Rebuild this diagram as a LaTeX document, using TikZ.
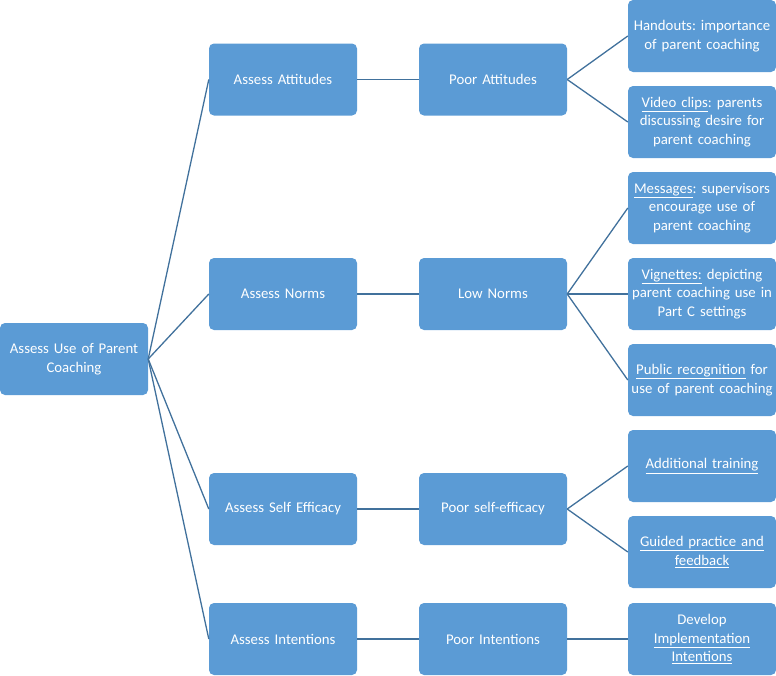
\documentclass[tikz,border=0pt]{standalone}
\usepackage{fontspec}
\setmainfont{Carlito}
\frenchspacing
\definecolor{boxfill}{HTML}{5B9BD5}
\definecolor{linecol}{HTML}{41719C}
\begin{document}
\begin{tikzpicture}[x=1pt,y=-1pt,
  box/.style={draw=none,fill=boxfill,rounded corners=5pt,minimum width=148pt,minimum height=72pt,
    text width=146pt,align=center,text=white,font=\fontsize{14.8}{18.5}\selectfont\frenchspacing,inner sep=0pt},
  conn/.style={draw=linecol,line width=1.3pt}]
\useasboundingbox (0,0) rectangle (776,675);
\node[box] (root) at (74,359) {Assess Use of Parent\\ Coaching};
\node[box] (att) at (283,79.5) {Assess Attitudes};
\node[box] (nor) at (283,294) {Assess Norms};
\node[box] (eff) at (283,509) {Assess Self Efficacy};
\node[box] (int) at (283,639) {Assess Intentions};
\node[box] (patt) at (493,79.5) {Poor Attitudes};
\node[box] (lnor) at (493,294) {Low Norms};
\node[box] (peff) at (493,509) {Poor self-efficacy};
\node[box] (pint) at (493,639) {Poor Intentions};
\node[box] (hand) at (702,36) {Handouts: importance\\ of parent coaching};
\node[box] (vid) at (702,122) {\underline{Video clips}: parents\\ discussing desire for\\ parent coaching};
\node[box] (mes) at (702,208) {\underline{Messages}: supervisors\\ encourage use of\\ parent coaching};
\node[box] (vig) at (702,294) {\underline{Vignettes:} depicting\\ parent coaching use in\\ Part C settings};
\node[box] (pub) at (702,380) {\underline{Public recognition} for\\ use of parent coaching};
\node[box] (add) at (702,466) {\underline{Additional training}};
\node[box] (gui) at (702,552) {\underline{Guided practice and}\\ \underline{feedback}};
\node[box] (dev) at (702,639) {Develop\\ \underline{Implementation}\\ \underline{Intentions}};
\foreach \t in {att,nor,eff,int} \draw[conn] (root.east) -- (\t.west);
\draw[conn] (att.east) -- (patt.west);
\draw[conn] (nor.east) -- (lnor.west);
\draw[conn] (eff.east) -- (peff.west);
\draw[conn] (int.east) -- (pint.west);
\foreach \t in {hand,vid} \draw[conn] (patt.east) -- (\t.west);
\foreach \t in {mes,vig,pub} \draw[conn] (lnor.east) -- (\t.west);
\foreach \t in {add,gui} \draw[conn] (peff.east) -- (\t.west);
\draw[conn] (pint.east) -- (dev.west);
\end{tikzpicture}
\end{document}
